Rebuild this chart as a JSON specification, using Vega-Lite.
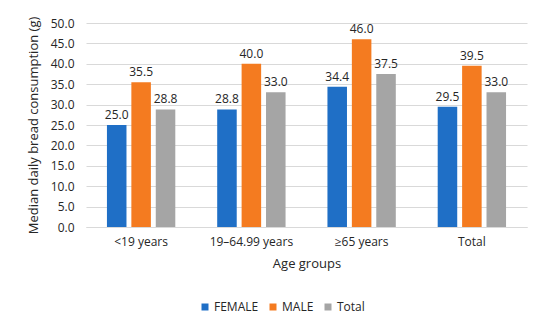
{
  "$schema": "https://vega.github.io/schema/vega-lite/v6.json",
  "width": 441,
  "height": 204,
  "autosize": {"type": "none"},
  "padding": {"left": 86, "top": 23, "right": 23, "bottom": 107},
  "background": "white",
  "data": {
    "values": [
      {"group": "<19 years", "series": "FEMALE", "value": 25.0},
      {"group": "<19 years", "series": "MALE", "value": 35.5},
      {"group": "<19 years", "series": "Total", "value": 28.8},
      {"group": "19–64.99 years", "series": "FEMALE", "value": 28.8},
      {"group": "19–64.99 years", "series": "MALE", "value": 40.0},
      {"group": "19–64.99 years", "series": "Total", "value": 33.0},
      {"group": "≥65 years", "series": "FEMALE", "value": 34.4},
      {"group": "≥65 years", "series": "MALE", "value": 46.0},
      {"group": "≥65 years", "series": "Total", "value": 37.5},
      {"group": "Total", "series": "FEMALE", "value": 29.5},
      {"group": "Total", "series": "MALE", "value": 39.5},
      {"group": "Total", "series": "Total", "value": 33.0}
    ]
  },
  "encoding": {
    "x": {
      "field": "group", "type": "nominal", "sort": null,
      "scale": {"paddingInner": 0.38, "paddingOuter": 0.19},
      "axis": {"title": "Age groups", "labelAngle": 0, "ticks": false, "domain": true, "domainColor": "#d9d9d9",
               "labelPadding": 9, "titlePadding": 10, "labelFontSize": 12, "titleFontSize": 13,
               "labelColor": "#262626", "titleColor": "#262626", "titleFontWeight": "normal",
               "labelFont": "Open Sans", "titleFont": "Open Sans"}
    },
    "xOffset": {"field": "series", "type": "nominal", "sort": ["FEMALE", "MALE", "Total"],
                "scale": {"paddingInner": 0.2, "paddingOuter": 0}},
    "y": {
      "field": "value", "type": "quantitative",
      "scale": {"domain": [0, 50], "nice": false},
      "axis": {"title": "Median daily bread consumption (g)", "values": [0,5,10,15,20,25,30,35,40,45,50],
               "format": ".1f", "ticks": false, "domain": false, "gridColor": "#d9d9d9",
               "labelPadding": 12, "titlePadding": 10, "labelFontSize": 12, "titleFontSize": 13,
               "labelColor": "#262626", "titleColor": "#262626", "titleFontWeight": "normal",
               "labelFont": "Open Sans", "titleFont": "Open Sans"}
    }
  },
  "layer": [
    {
      "mark": {"type": "bar"},
      "encoding": {
        "color": {
          "field": "series", "type": "nominal",
          "scale": {"domain": ["FEMALE", "MALE", "Total"], "range": ["#1F6FC6", "#F47B20", "#A5A5A5"]},
          "legend": {"title": null, "orient": "none", "direction": "horizontal", "symbolType": "square",
                     "legendX": 113, "legendY": 278,
                     "symbolSize": 49, "labelFontSize": 12, "labelFont": "Open Sans", "labelColor": "#262626",
                     "columnPadding": 8, "symbolOffset": 0, "labelOffset": 3}
        }
      }
    },
    {
      "mark": {"type": "text", "dy": -10, "fontSize": 12, "font": "Open Sans", "color": "#262626"},
      "encoding": {
        "text": {"field": "value", "type": "quantitative", "format": ".1f"}
      }
    }
  ],
  "config": {"view": {"stroke": null}}
}
